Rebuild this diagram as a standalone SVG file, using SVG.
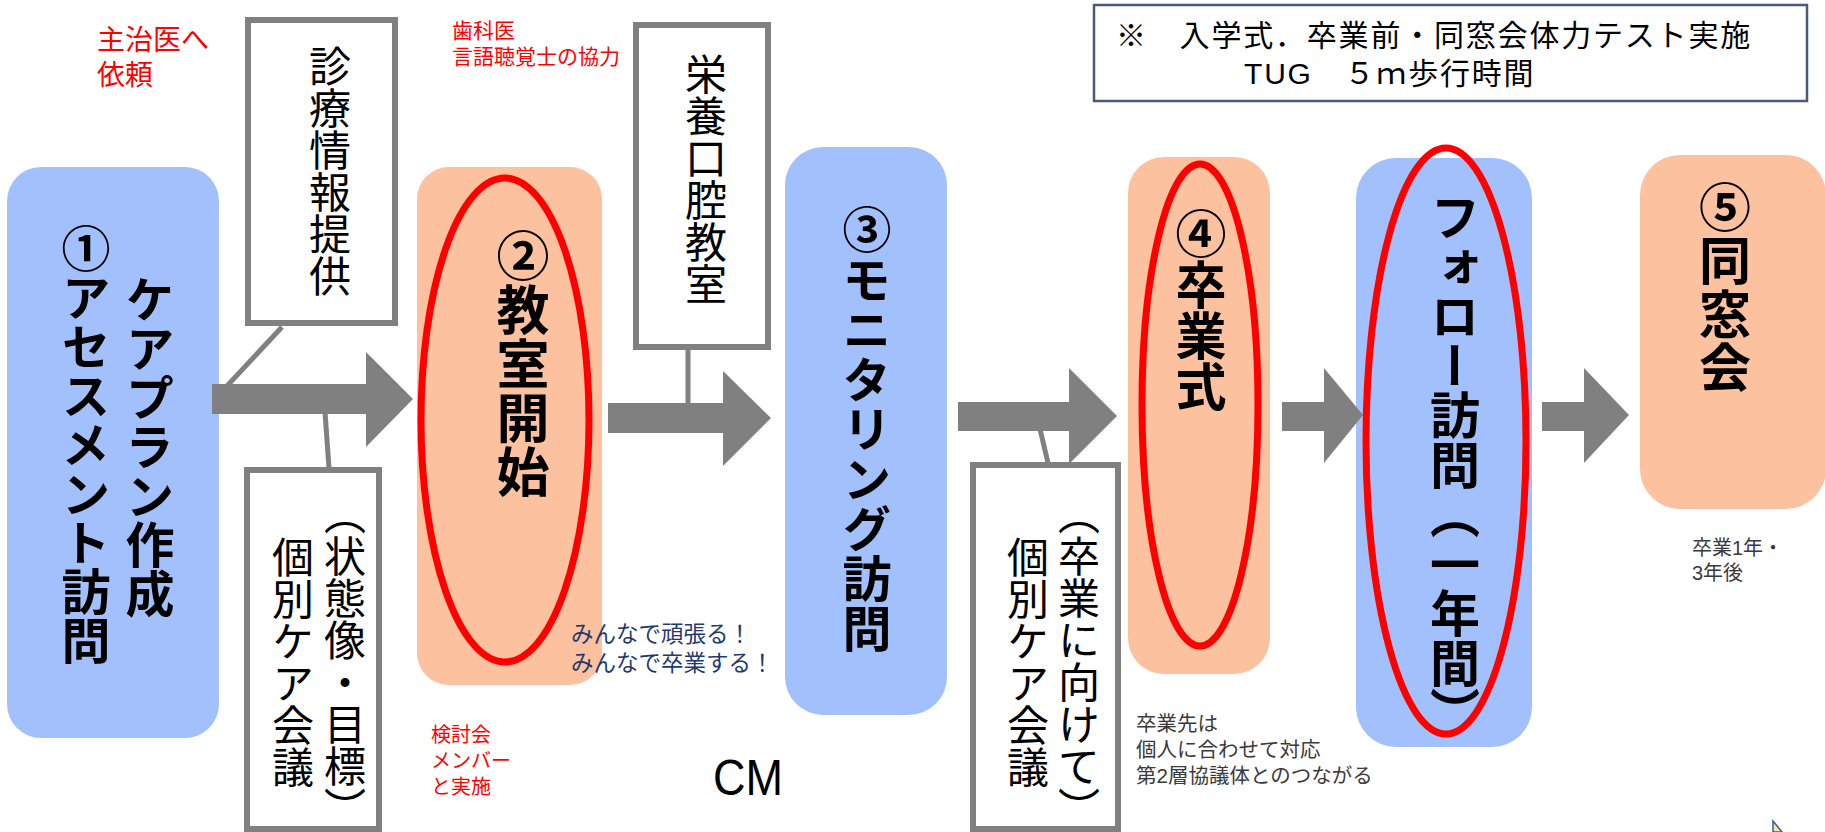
<svg xmlns="http://www.w3.org/2000/svg" width="1825" height="832" viewBox="0 0 1825 832">
<style>
.bg{fill:#ffffff}
.blue{fill:#A2C0FC}
.orange{fill:#FCC19F}
.callout{fill:#ffffff;stroke:#808080;stroke-width:6}
.ring{fill:none;stroke:#FF0000;stroke-width:7}
.arrow{fill:#808080}
.link{stroke:#808080;stroke-width:5;fill:none}
.jp{font-family:"Liberation Sans","Noto Sans CJK JP",sans-serif}
.vb{font-family:"Noto Sans CJK JP",sans-serif;font-weight:700;writing-mode:vertical-rl;fill:#000}
.vt{font-family:"Noto Sans CJK JP",sans-serif;font-weight:400;writing-mode:vertical-rl;fill:#000}
.half{font-feature-settings:"vhal" 1}
.red{fill:#FF0000}
.navy{fill:#1F3A70}
.gray{fill:#3A3A3A}
</style>
<rect class="bg" x="0" y="0" width="1825" height="832"/>

<g id="note">
<rect x="1094" y="5" width="713" height="96" fill="#ffffff" stroke="#4A5A78" stroke-width="2.5"/>
<text class="jp" x="1116" y="46" font-size="30" letter-spacing="1.8" fill="#000">※　入学式．卒業前・同窓会体力テスト実施</text>
<text class="jp" x="1244" y="84" font-size="30" letter-spacing="1.8" fill="#000">TUG　５ｍ歩行時間</text>
</g>

<g id="node1">
<rect class="blue" x="7" y="167" width="212" height="571" rx="34"/>
<text class="vb" x="86" y="224" font-size="49">①アセスメント訪問</text>
<text class="vb" x="150" y="275" font-size="49">ケアプラン作成</text>
</g>

<g id="node2">
<rect class="orange" x="417" y="167" width="185" height="518" rx="32"/>
<text class="vb" x="523" y="229" font-size="53" letter-spacing="1">②教室開始</text>
</g>

<g id="node3">
<rect class="blue" x="785" y="147" width="162" height="568" rx="38"/>
<text class="vb" x="867" y="205" font-size="49" letter-spacing="0.8">③モニタリング訪問</text>
</g>

<g id="node4">
<rect class="orange" x="1128" y="157" width="142" height="517" rx="36"/>
<text class="vb" x="1201" y="208" font-size="51">④卒業式</text>
</g>

<g id="node-follow">
<rect class="blue" x="1356" y="158" width="176" height="589" rx="40"/>
<text class="vb" x="1455" y="192" font-size="50" letter-spacing="-0.5">フォロー訪問（一年間）</text>
</g>

<g id="node5">
<rect class="orange" x="1640" y="155" width="186" height="354" rx="40"/>
<text class="vb" x="1725" y="181" font-size="52" letter-spacing="1.5">⑤同窓会</text>
</g>

<g id="connectors">
<line class="link" x1="282" y1="327" x2="227" y2="386"/>
<line class="link" x1="325" y1="412" x2="329" y2="468"/>
<line class="link" x1="688" y1="350" x2="688" y2="405"/>
<line class="link" x1="1040" y1="429" x2="1048" y2="463"/>
<polygon class="arrow" points="212,384 366,384 366,352 413,399 366,447 366,414 212,414"/>
<polygon class="arrow" points="608,403 723,403 723,371 771,418 723,466 723,433 608,433"/>
<polygon class="arrow" points="958,402 1069,402 1069,368 1117,416 1069,464 1069,431 958,431"/>
<polygon class="arrow" points="1282,402 1324,402 1324,368 1363,415 1324,463 1324,431 1282,431"/>
<polygon class="arrow" points="1542,402 1584,402 1584,368 1629,415 1584,463 1584,431 1542,431"/>
</g>

<g id="rings">
<ellipse class="ring" cx="505" cy="420" rx="84" ry="242"/>
<ellipse class="ring" cx="1200" cy="405" rx="58" ry="241"/>
<ellipse class="ring" cx="1446" cy="441" rx="80" ry="293"/>
</g>

<g id="callout-shinryo">
<rect class="callout" x="248" y="20" width="147" height="303"/>
<text class="vt" x="330" y="45" font-size="42">診療情報提供</text>
</g>

<g id="callout-eiyo">
<rect class="callout" x="636" y="25" width="132" height="322"/>
<text class="vt" x="706" y="53" font-size="42">栄養口腔教室</text>
</g>

<g id="callout-kobetsu1">
<rect class="callout" x="247" y="470" width="132" height="359"/>
<text class="vt" x="345" y="514" font-size="42"><tspan class="half">（</tspan>状態像・目標<tspan class="half">）</tspan></text>
<text class="vt" x="293" y="536" font-size="42">個別ケア会議</text>
</g>

<g id="callout-kobetsu2">
<rect class="callout" x="973" y="465" width="145" height="364"/>
<text class="vt" x="1079" y="514" font-size="42"><tspan class="half">（</tspan>卒業に向けて<tspan class="half">）</tspan></text>
<text class="vt" x="1028" y="536" font-size="42">個別ケア会議</text>
</g>

<g id="labels">
<text class="jp red" x="97" y="50" font-size="28">主治医へ</text>
<text class="jp red" x="97" y="85" font-size="28">依頼</text>
<text class="jp red" x="452" y="38" font-size="21">歯科医</text>
<text class="jp red" x="452" y="64" font-size="21">言語聴覚士の協力</text>
<text class="jp navy" x="571" y="642" font-size="22.5">みんなで頑張る！</text>
<text class="jp navy" x="571" y="671" font-size="22.5">みんなで卒業する！</text>
<text class="jp red" x="431" y="742" font-size="20">検討会</text>
<text class="jp red" x="431" y="768" font-size="20">メンバー</text>
<text class="jp red" x="431" y="794" font-size="20">と実施</text>
<text class="jp" x="713" y="795" font-size="50" textLength="70" lengthAdjust="spacingAndGlyphs" fill="#000">CM</text>
<text class="jp gray" x="1136" y="731" font-size="20.5">卒業先は</text>
<text class="jp gray" x="1136" y="757" font-size="20.5">個人に合わせて対応</text>
<text class="jp gray" x="1136" y="783" font-size="20.5">第2層協議体とのつながる</text>
<text class="jp gray" x="1692" y="555" font-size="20">卒業1年・</text>
<text class="jp gray" x="1692" y="580" font-size="20">3年後</text>
</g>

<g id="cursor">
<polygon points="1773,821 1773,832 1782,832" fill="#F3E4B0" stroke="#3B5E8C" stroke-width="1.5"/>
</g>
</svg>
